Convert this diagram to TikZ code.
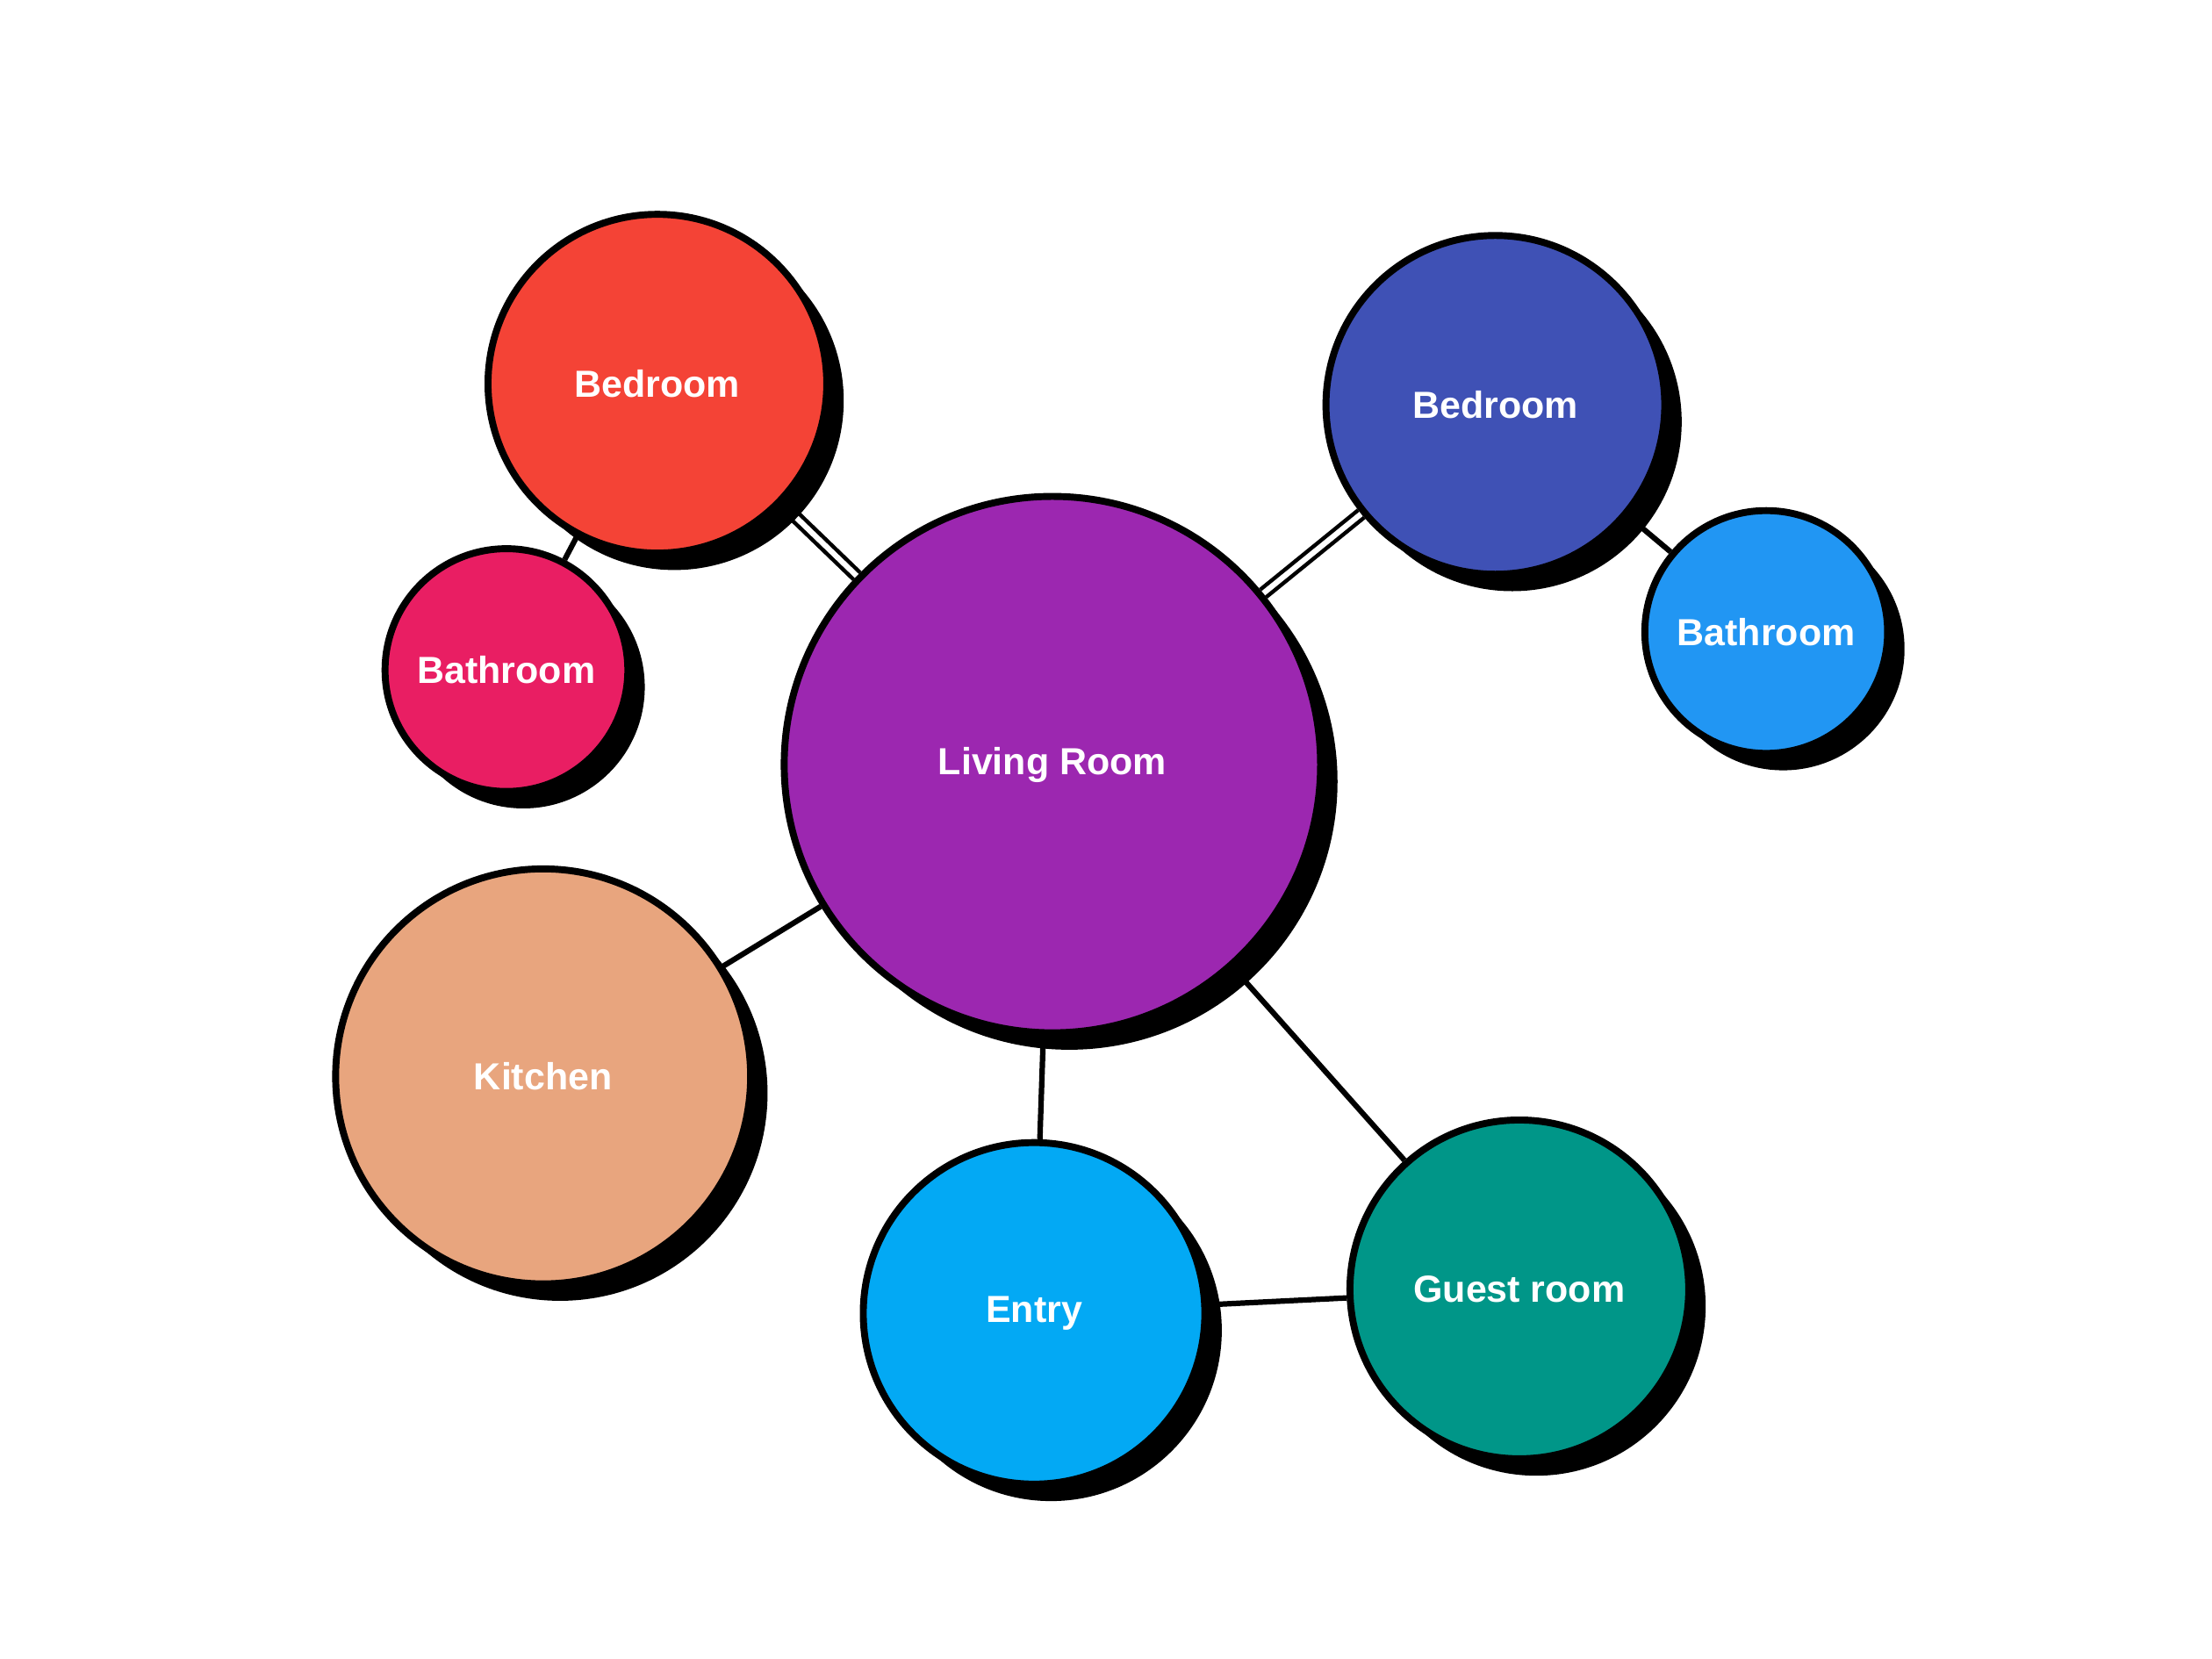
\documentclass[tikz,border=0pt]{standalone}
\usepackage{fontspec}
\setmainfont{Liberation Sans}
\usetikzlibrary{shadows,backgrounds}
\definecolor{cRed}{HTML}{F44336}
\definecolor{cPink}{HTML}{E91E63}
\definecolor{cIndigo}{HTML}{3F51B5}
\definecolor{cBlue}{HTML}{2196F3}
\definecolor{cKit}{HTML}{E8A57E}
\definecolor{cEntry}{HTML}{03A9F4}
\definecolor{cTeal}{HTML}{009688}
\definecolor{cPurple}{HTML}{9C27B0}
\tikzset{
  room/.style={circle, draw=black, line width=1.4pt, inner sep=0pt, text=white,
    font=\fontsize{7.6}{9}\selectfont\bfseries,
    drop shadow={shadow xshift=0.12cm, shadow yshift=-0.12cm, opacity=1, fill=black}},
  link/.style={draw=black, line width=1.1pt},
  dlink/.style={draw=black, line width=0.8pt, double=white, double distance=1.1pt}
}
\begin{document}
\begin{tikzpicture}[x=0.01cm,y=-0.01cm]
\useasboundingbox (0,0) rectangle (1568,1176);
\node[room, fill=cPurple, minimum size=3.8cm] (liv) at (746,542) {Living Room};
\node[room, fill=cRed, minimum size=2.4cm] (bed1) at (466,272) {Bedroom};
\node[room, fill=cPink, minimum size=1.72cm] (bath1) at (359,475) {Bathroom};
\node[room, fill=cIndigo, minimum size=2.4cm] (bed2) at (1060,287) {Bedroom};
\node[room, fill=cBlue, minimum size=1.72cm] (bath2) at (1252,448) {Bathroom};
\node[room, fill=cKit, minimum size=2.94cm] (kit) at (385,763) {Kitchen};
\node[room, fill=cEntry, minimum size=2.42cm] (entry) at (733,931) {Entry};
\node[room, fill=cTeal, minimum size=2.4cm] (guest) at (1077,914) {Guest room};
\begin{scope}[on background layer]
\draw[dlink] (liv) -- (bed1);
\draw[dlink] (liv) -- (bed2);
\draw[link] (bed1) -- (bath1);
\draw[link] (bed2) -- (bath2);
\draw[link] (liv) -- (kit);
\draw[link] (liv) -- (entry);
\draw[link] (liv) -- (guest);
\draw[link] (entry) -- (guest);
\end{scope}
\end{tikzpicture}
\end{document}
